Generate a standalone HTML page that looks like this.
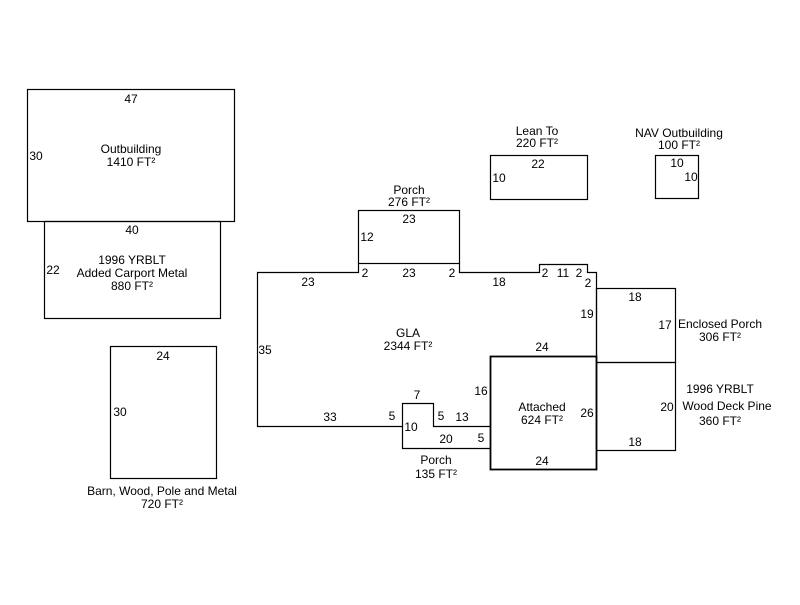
<!DOCTYPE html>
<html><head><style>body{margin:0;background:#fff}</style></head><body>
<svg width="800" height="600" xmlns="http://www.w3.org/2000/svg" font-family="Liberation Sans, Arial, sans-serif" font-size="12" fill="#000">
<g fill="none" stroke="#000" stroke-width="1.2">
<rect x="27.5" y="89.5" width="207" height="132"/>
<rect x="44.5" y="221.5" width="176" height="97"/>
<rect x="110.5" y="346.5" width="106" height="132"/>
<rect x="490.5" y="155.5" width="97" height="44"/>
<rect x="655.5" y="155.5" width="43" height="43"/>
<rect x="358.5" y="210.5" width="101" height="53"/>
<polyline points="358.5,263.5 358.5,272.5 257.5,272.5 257.5,426.5 402.5,426.5 402.5,403.5 433.5,403.5 433.5,426.5 490.5,426.5"/>
<polyline points="459.5,263.5 459.5,272.5 539.5,272.5 539.5,264.5 587.5,264.5 587.5,272.5 596.5,272.5 596.5,356.5"/>
<polyline points="402.5,426.5 402.5,448.5 490.5,448.5"/>
<rect x="490.5" y="356.5" width="106" height="113" stroke-width="1.8"/>
<rect x="596.5" y="288.5" width="79" height="74"/>
<rect x="596.5" y="362.5" width="79" height="88"/>
</g>
<g text-anchor="middle">
<text x="131" y="103">47</text><text x="36" y="160">30</text>
<text x="131" y="153">Outbuilding</text><text x="131" y="166">1410 FT²</text>
<text x="132" y="234">40</text><text x="53" y="274">22</text>
<text x="132" y="264">1996 YRBLT</text><text x="132" y="277">Added Carport Metal</text><text x="132" y="290">880 FT²</text>
<text x="163" y="360">24</text><text x="120" y="416">30</text>
<text x="162" y="495">Barn, Wood, Pole and Metal</text><text x="162" y="508">720 FT²</text>
<text x="537" y="135">Lean To</text><text x="537" y="147">220 FT²</text>
<text x="538" y="168">22</text><text x="499" y="182">10</text>
<text x="679" y="137">NAV Outbuilding</text><text x="679" y="149">100 FT²</text>
<text x="677" y="167">10</text><text x="691" y="181">10</text>
<text x="409" y="194">Porch</text><text x="409" y="206">276 FT²</text>
<text x="409" y="223">23</text><text x="367" y="241">12</text>
<text x="365" y="277">2</text><text x="409" y="277">23</text><text x="452" y="277">2</text>
<text x="308" y="286">23</text><text x="499" y="286">18</text>
<text x="545" y="277">2</text><text x="563" y="277">11</text><text x="579" y="277">2</text><text x="588" y="287">2</text>
<text x="587" y="318">19</text>
<text x="408" y="337">GLA</text><text x="408" y="350">2344 FT²</text>
<text x="265" y="354">35</text>
<text x="542" y="351">24</text>
<text x="481" y="395">16</text>
<text x="417" y="399">7</text>
<text x="330" y="421">33</text><text x="392" y="420">5</text>
<text x="441" y="420">5</text><text x="462" y="421">13</text>
<text x="411" y="431">10</text>
<text x="446" y="443">20</text><text x="481" y="442">5</text>
<text x="436" y="464">Porch</text><text x="436" y="478">135 FT²</text>
<text x="542" y="411">Attached</text><text x="542" y="424">624 FT²</text>
<text x="587" y="417">26</text>
<text x="542" y="465">24</text>
<text x="635" y="301">18</text><text x="665" y="329">17</text>
<text x="720" y="328">Enclosed Porch</text><text x="720" y="341">306 FT²</text>
<text x="667" y="411">20</text>
<text x="720" y="393">1996 YRBLT</text><text x="727" y="410">Wood Deck Pine</text><text x="720" y="425">360 FT²</text>
<text x="635" y="446">18</text>
</g>
</svg>
</body></html>
